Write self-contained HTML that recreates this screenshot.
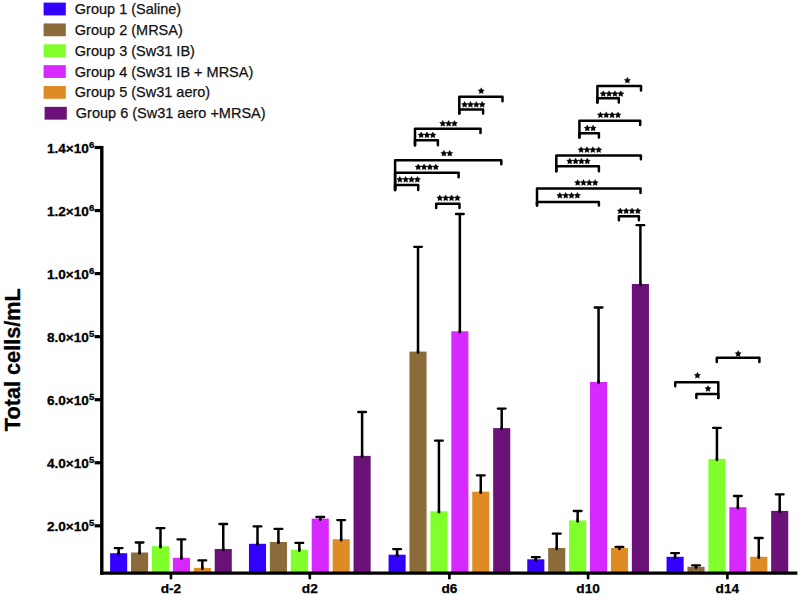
<!DOCTYPE html><html><head><meta charset="utf-8"><title>chart</title><style>
html,body{margin:0;padding:0;background:#fff}
svg{display:block;font-family:"Liberation Sans",sans-serif}
.lg{font-size:14.5px;fill:#111;stroke:#111;stroke-width:0.25px}
.yt{font-size:13.6px;font-weight:bold;fill:#000;stroke:#000;stroke-width:0.3px}
.xt{font-size:13.7px;font-weight:bold;fill:#000;text-anchor:middle;stroke:#000;stroke-width:0.25px}
.st{font-size:7px;fill:#000;text-anchor:middle}
</style></head><body>
<svg width="800" height="595" viewBox="0 0 800 595">
<rect width="800" height="595" fill="#fff"/>
<rect x="43.60" y="2.60" width="22.2" height="12.8" fill="#3300ff"/>
<text class="lg" x="74.80" y="14.20">Group 1 (Saline)</text>
<rect x="43.60" y="23.45" width="22.2" height="12.8" fill="#8b6b3a"/>
<text class="lg" x="74.80" y="35.05">Group 2 (MRSA)</text>
<rect x="43.60" y="44.30" width="22.2" height="12.8" fill="#80ff2a"/>
<text class="lg" x="74.80" y="55.90">Group 3 (Sw31 IB)</text>
<rect x="43.60" y="65.15" width="22.2" height="12.8" fill="#d729ff"/>
<text class="lg" x="74.80" y="76.75">Group 4 (Sw31 IB + MRSA)</text>
<rect x="43.60" y="86.00" width="22.2" height="12.8" fill="#de8a25"/>
<text class="lg" x="74.80" y="97.20">Group 5 (Sw31 aero)</text>
<rect x="44.60" y="106.85" width="22.2" height="12.8" fill="#6b1278"/>
<text class="lg" x="75.80" y="118.05">Group 6 (Sw31 aero +MRSA)</text>
<text transform="translate(20.2,359.7) rotate(-90)" text-anchor="middle" font-size="21.7px" stroke="#000" stroke-width="0.3" font-weight="bold" fill="#000">Total cells/mL</text>
<line x1="94.6" x2="101.8" y1="147.50" y2="147.50" stroke="#000" stroke-width="3.2"/>
<text class="yt" x="94.2" y="153.00" text-anchor="end">1.4×10<tspan font-size="9.5px" dy="-5.2">6</tspan></text>
<line x1="94.6" x2="101.8" y1="210.55" y2="210.55" stroke="#000" stroke-width="3.2"/>
<text class="yt" x="94.2" y="216.05" text-anchor="end">1.2×10<tspan font-size="9.5px" dy="-5.2">6</tspan></text>
<line x1="94.6" x2="101.8" y1="273.60" y2="273.60" stroke="#000" stroke-width="3.2"/>
<text class="yt" x="94.2" y="279.10" text-anchor="end">1.0×10<tspan font-size="9.5px" dy="-5.2">6</tspan></text>
<line x1="94.6" x2="101.8" y1="336.65" y2="336.65" stroke="#000" stroke-width="3.2"/>
<text class="yt" x="94.2" y="342.15" text-anchor="end">8.0×10<tspan font-size="9.5px" dy="-5.2">5</tspan></text>
<line x1="94.6" x2="101.8" y1="399.70" y2="399.70" stroke="#000" stroke-width="3.2"/>
<text class="yt" x="94.2" y="405.20" text-anchor="end">6.0×10<tspan font-size="9.5px" dy="-5.2">5</tspan></text>
<line x1="94.6" x2="101.8" y1="462.75" y2="462.75" stroke="#000" stroke-width="3.2"/>
<text class="yt" x="94.2" y="468.25" text-anchor="end">4.0×10<tspan font-size="9.5px" dy="-5.2">5</tspan></text>
<line x1="94.6" x2="101.8" y1="525.80" y2="525.80" stroke="#000" stroke-width="3.2"/>
<text class="yt" x="94.2" y="531.30" text-anchor="end">2.0×10<tspan font-size="9.5px" dy="-5.2">5</tspan></text>
<line x1="118.65" x2="118.65" y1="548.10" y2="554.20" stroke="#000" stroke-width="2.5"/>
<line x1="114.75" x2="122.55" y1="548.10" y2="548.10" stroke="#000" stroke-width="2.3" stroke-linecap="round"/>
<rect x="110.10" y="553.20" width="17.1" height="19.90" fill="#3300ff"/>
<line x1="118.65" x2="118.65" y1="552.70" y2="554.20" stroke="#000" stroke-width="2.6" stroke-linecap="round"/>
<line x1="139.57" x2="139.57" y1="542.50" y2="553.50" stroke="#000" stroke-width="2.5"/>
<line x1="135.67" x2="143.47" y1="542.50" y2="542.50" stroke="#000" stroke-width="2.3" stroke-linecap="round"/>
<rect x="131.02" y="552.50" width="17.1" height="20.60" fill="#8b6b3a"/>
<line x1="139.57" x2="139.57" y1="552.00" y2="553.50" stroke="#000" stroke-width="2.6" stroke-linecap="round"/>
<line x1="160.49" x2="160.49" y1="528.20" y2="547.20" stroke="#000" stroke-width="2.5"/>
<line x1="156.59" x2="164.39" y1="528.20" y2="528.20" stroke="#000" stroke-width="2.3" stroke-linecap="round"/>
<rect x="151.94" y="546.20" width="17.1" height="26.90" fill="#80ff2a"/>
<line x1="160.49" x2="160.49" y1="545.70" y2="547.20" stroke="#000" stroke-width="2.6" stroke-linecap="round"/>
<line x1="181.41" x2="181.41" y1="539.40" y2="558.80" stroke="#000" stroke-width="2.5"/>
<line x1="177.51" x2="185.31" y1="539.40" y2="539.40" stroke="#000" stroke-width="2.3" stroke-linecap="round"/>
<rect x="172.86" y="557.80" width="17.1" height="15.30" fill="#d729ff"/>
<line x1="181.41" x2="181.41" y1="557.30" y2="558.80" stroke="#000" stroke-width="2.6" stroke-linecap="round"/>
<line x1="202.33" x2="202.33" y1="560.40" y2="568.90" stroke="#000" stroke-width="2.5"/>
<line x1="198.43" x2="206.23" y1="560.40" y2="560.40" stroke="#000" stroke-width="2.3" stroke-linecap="round"/>
<rect x="193.78" y="567.90" width="17.1" height="5.20" fill="#de8a25"/>
<line x1="202.33" x2="202.33" y1="567.40" y2="568.90" stroke="#000" stroke-width="2.6" stroke-linecap="round"/>
<line x1="223.25" x2="223.25" y1="524.00" y2="550.00" stroke="#000" stroke-width="2.5"/>
<line x1="219.35" x2="227.15" y1="524.00" y2="524.00" stroke="#000" stroke-width="2.3" stroke-linecap="round"/>
<rect x="214.70" y="549.00" width="17.1" height="24.10" fill="#6b1278"/>
<line x1="223.25" x2="223.25" y1="548.50" y2="550.00" stroke="#000" stroke-width="2.6" stroke-linecap="round"/>
<line x1="257.50" x2="257.50" y1="526.40" y2="544.80" stroke="#000" stroke-width="2.5"/>
<line x1="253.60" x2="261.40" y1="526.40" y2="526.40" stroke="#000" stroke-width="2.3" stroke-linecap="round"/>
<rect x="248.95" y="543.80" width="17.1" height="29.30" fill="#3300ff"/>
<line x1="257.50" x2="257.50" y1="543.30" y2="544.80" stroke="#000" stroke-width="2.6" stroke-linecap="round"/>
<line x1="278.42" x2="278.42" y1="528.90" y2="543.00" stroke="#000" stroke-width="2.5"/>
<line x1="274.52" x2="282.32" y1="528.90" y2="528.90" stroke="#000" stroke-width="2.3" stroke-linecap="round"/>
<rect x="269.87" y="542.00" width="17.1" height="31.10" fill="#8b6b3a"/>
<line x1="278.42" x2="278.42" y1="541.50" y2="543.00" stroke="#000" stroke-width="2.6" stroke-linecap="round"/>
<line x1="299.34" x2="299.34" y1="542.90" y2="550.70" stroke="#000" stroke-width="2.5"/>
<line x1="295.44" x2="303.24" y1="542.90" y2="542.90" stroke="#000" stroke-width="2.3" stroke-linecap="round"/>
<rect x="290.79" y="549.70" width="17.1" height="23.40" fill="#80ff2a"/>
<line x1="299.34" x2="299.34" y1="549.20" y2="550.70" stroke="#000" stroke-width="2.6" stroke-linecap="round"/>
<line x1="320.26" x2="320.26" y1="517.00" y2="519.60" stroke="#000" stroke-width="2.5"/>
<line x1="316.36" x2="324.16" y1="517.00" y2="517.00" stroke="#000" stroke-width="2.3" stroke-linecap="round"/>
<rect x="311.71" y="518.60" width="17.1" height="54.50" fill="#d729ff"/>
<line x1="320.26" x2="320.26" y1="518.10" y2="519.60" stroke="#000" stroke-width="2.6" stroke-linecap="round"/>
<line x1="341.18" x2="341.18" y1="520.10" y2="540.20" stroke="#000" stroke-width="2.5"/>
<line x1="337.28" x2="345.08" y1="520.10" y2="520.10" stroke="#000" stroke-width="2.3" stroke-linecap="round"/>
<rect x="332.63" y="539.20" width="17.1" height="33.90" fill="#de8a25"/>
<line x1="341.18" x2="341.18" y1="538.70" y2="540.20" stroke="#000" stroke-width="2.6" stroke-linecap="round"/>
<line x1="362.10" x2="362.10" y1="412.00" y2="456.90" stroke="#000" stroke-width="2.5"/>
<line x1="358.20" x2="366.00" y1="412.00" y2="412.00" stroke="#000" stroke-width="2.3" stroke-linecap="round"/>
<rect x="353.55" y="455.90" width="17.1" height="117.20" fill="#6b1278"/>
<line x1="362.10" x2="362.10" y1="455.40" y2="456.90" stroke="#000" stroke-width="2.6" stroke-linecap="round"/>
<line x1="397.10" x2="397.10" y1="549.10" y2="555.70" stroke="#000" stroke-width="2.5"/>
<line x1="393.20" x2="401.00" y1="549.10" y2="549.10" stroke="#000" stroke-width="2.3" stroke-linecap="round"/>
<rect x="388.55" y="554.70" width="17.1" height="18.40" fill="#3300ff"/>
<line x1="397.10" x2="397.10" y1="554.20" y2="555.70" stroke="#000" stroke-width="2.6" stroke-linecap="round"/>
<line x1="418.02" x2="418.02" y1="246.80" y2="352.60" stroke="#000" stroke-width="2.5"/>
<line x1="414.12" x2="421.92" y1="246.80" y2="246.80" stroke="#000" stroke-width="2.3" stroke-linecap="round"/>
<rect x="409.47" y="351.60" width="17.1" height="221.50" fill="#8b6b3a"/>
<line x1="418.02" x2="418.02" y1="351.10" y2="352.60" stroke="#000" stroke-width="2.6" stroke-linecap="round"/>
<line x1="438.94" x2="438.94" y1="440.60" y2="512.30" stroke="#000" stroke-width="2.5"/>
<line x1="435.04" x2="442.84" y1="440.60" y2="440.60" stroke="#000" stroke-width="2.3" stroke-linecap="round"/>
<rect x="430.39" y="511.30" width="17.1" height="61.80" fill="#80ff2a"/>
<line x1="438.94" x2="438.94" y1="510.80" y2="512.30" stroke="#000" stroke-width="2.6" stroke-linecap="round"/>
<line x1="459.86" x2="459.86" y1="214.00" y2="332.30" stroke="#000" stroke-width="2.5"/>
<line x1="455.96" x2="463.76" y1="214.00" y2="214.00" stroke="#000" stroke-width="2.3" stroke-linecap="round"/>
<rect x="451.31" y="331.30" width="17.1" height="241.80" fill="#d729ff"/>
<line x1="459.86" x2="459.86" y1="330.80" y2="332.30" stroke="#000" stroke-width="2.6" stroke-linecap="round"/>
<line x1="480.78" x2="480.78" y1="475.30" y2="492.70" stroke="#000" stroke-width="2.5"/>
<line x1="476.88" x2="484.68" y1="475.30" y2="475.30" stroke="#000" stroke-width="2.3" stroke-linecap="round"/>
<rect x="472.23" y="491.70" width="17.1" height="81.40" fill="#de8a25"/>
<line x1="480.78" x2="480.78" y1="491.20" y2="492.70" stroke="#000" stroke-width="2.6" stroke-linecap="round"/>
<line x1="501.70" x2="501.70" y1="408.60" y2="429.10" stroke="#000" stroke-width="2.5"/>
<line x1="497.80" x2="505.60" y1="408.60" y2="408.60" stroke="#000" stroke-width="2.3" stroke-linecap="round"/>
<rect x="493.15" y="428.10" width="17.1" height="145.00" fill="#6b1278"/>
<line x1="501.70" x2="501.70" y1="427.60" y2="429.10" stroke="#000" stroke-width="2.6" stroke-linecap="round"/>
<line x1="535.80" x2="535.80" y1="557.20" y2="560.30" stroke="#000" stroke-width="2.5"/>
<line x1="531.90" x2="539.70" y1="557.20" y2="557.20" stroke="#000" stroke-width="2.3" stroke-linecap="round"/>
<rect x="527.25" y="559.30" width="17.1" height="13.80" fill="#3300ff"/>
<line x1="535.80" x2="535.80" y1="558.80" y2="560.30" stroke="#000" stroke-width="2.6" stroke-linecap="round"/>
<line x1="556.72" x2="556.72" y1="533.70" y2="549.00" stroke="#000" stroke-width="2.5"/>
<line x1="552.82" x2="560.62" y1="533.70" y2="533.70" stroke="#000" stroke-width="2.3" stroke-linecap="round"/>
<rect x="548.17" y="548.00" width="17.1" height="25.10" fill="#8b6b3a"/>
<line x1="556.72" x2="556.72" y1="547.50" y2="549.00" stroke="#000" stroke-width="2.6" stroke-linecap="round"/>
<line x1="577.64" x2="577.64" y1="511.00" y2="521.40" stroke="#000" stroke-width="2.5"/>
<line x1="573.74" x2="581.54" y1="511.00" y2="511.00" stroke="#000" stroke-width="2.3" stroke-linecap="round"/>
<rect x="569.09" y="520.40" width="17.1" height="52.70" fill="#80ff2a"/>
<line x1="577.64" x2="577.64" y1="519.90" y2="521.40" stroke="#000" stroke-width="2.6" stroke-linecap="round"/>
<line x1="598.56" x2="598.56" y1="307.50" y2="383.00" stroke="#000" stroke-width="2.5"/>
<line x1="594.66" x2="602.46" y1="307.50" y2="307.50" stroke="#000" stroke-width="2.3" stroke-linecap="round"/>
<rect x="590.01" y="382.00" width="17.1" height="191.10" fill="#d729ff"/>
<line x1="598.56" x2="598.56" y1="381.50" y2="383.00" stroke="#000" stroke-width="2.6" stroke-linecap="round"/>
<line x1="619.48" x2="619.48" y1="547.00" y2="549.00" stroke="#000" stroke-width="2.5"/>
<line x1="615.58" x2="623.38" y1="547.00" y2="547.00" stroke="#000" stroke-width="2.3" stroke-linecap="round"/>
<rect x="610.93" y="548.00" width="17.1" height="25.10" fill="#de8a25"/>
<line x1="619.48" x2="619.48" y1="547.50" y2="549.00" stroke="#000" stroke-width="2.6" stroke-linecap="round"/>
<line x1="640.40" x2="640.40" y1="225.20" y2="285.00" stroke="#000" stroke-width="2.5"/>
<line x1="636.50" x2="644.30" y1="225.20" y2="225.20" stroke="#000" stroke-width="2.3" stroke-linecap="round"/>
<rect x="631.85" y="284.00" width="17.1" height="289.10" fill="#6b1278"/>
<line x1="640.40" x2="640.40" y1="283.50" y2="285.00" stroke="#000" stroke-width="2.6" stroke-linecap="round"/>
<line x1="675.10" x2="675.10" y1="553.10" y2="557.80" stroke="#000" stroke-width="2.5"/>
<line x1="671.20" x2="679.00" y1="553.10" y2="553.10" stroke="#000" stroke-width="2.3" stroke-linecap="round"/>
<rect x="666.55" y="556.80" width="17.1" height="16.30" fill="#3300ff"/>
<line x1="675.10" x2="675.10" y1="556.30" y2="557.80" stroke="#000" stroke-width="2.6" stroke-linecap="round"/>
<line x1="696.02" x2="696.02" y1="565.40" y2="567.80" stroke="#000" stroke-width="2.5"/>
<line x1="692.12" x2="699.92" y1="565.40" y2="565.40" stroke="#000" stroke-width="2.3" stroke-linecap="round"/>
<rect x="687.47" y="566.80" width="17.1" height="6.30" fill="#8b6b3a"/>
<line x1="696.02" x2="696.02" y1="566.30" y2="567.80" stroke="#000" stroke-width="2.6" stroke-linecap="round"/>
<line x1="716.94" x2="716.94" y1="427.90" y2="459.90" stroke="#000" stroke-width="2.5"/>
<line x1="713.04" x2="720.84" y1="427.90" y2="427.90" stroke="#000" stroke-width="2.3" stroke-linecap="round"/>
<rect x="708.39" y="458.90" width="17.1" height="114.20" fill="#80ff2a"/>
<line x1="716.94" x2="716.94" y1="458.40" y2="459.90" stroke="#000" stroke-width="2.6" stroke-linecap="round"/>
<line x1="737.86" x2="737.86" y1="496.00" y2="508.20" stroke="#000" stroke-width="2.5"/>
<line x1="733.96" x2="741.76" y1="496.00" y2="496.00" stroke="#000" stroke-width="2.3" stroke-linecap="round"/>
<rect x="729.31" y="507.20" width="17.1" height="65.90" fill="#d729ff"/>
<line x1="737.86" x2="737.86" y1="506.70" y2="508.20" stroke="#000" stroke-width="2.6" stroke-linecap="round"/>
<line x1="758.78" x2="758.78" y1="538.00" y2="557.80" stroke="#000" stroke-width="2.5"/>
<line x1="754.88" x2="762.68" y1="538.00" y2="538.00" stroke="#000" stroke-width="2.3" stroke-linecap="round"/>
<rect x="750.23" y="556.80" width="17.1" height="16.30" fill="#de8a25"/>
<line x1="758.78" x2="758.78" y1="556.30" y2="557.80" stroke="#000" stroke-width="2.6" stroke-linecap="round"/>
<line x1="779.70" x2="779.70" y1="494.40" y2="511.90" stroke="#000" stroke-width="2.5"/>
<line x1="775.80" x2="783.60" y1="494.40" y2="494.40" stroke="#000" stroke-width="2.3" stroke-linecap="round"/>
<rect x="771.15" y="510.90" width="17.1" height="62.20" fill="#6b1278"/>
<line x1="779.70" x2="779.70" y1="510.40" y2="511.90" stroke="#000" stroke-width="2.6" stroke-linecap="round"/>
<line x1="101.8" x2="101.8" y1="145.9" y2="574.8000000000001" stroke="#000" stroke-width="3.4"/>
<line x1="100.1" x2="797.4" y1="573.1" y2="573.1" stroke="#000" stroke-width="3.4"/>
<line x1="170.95" x2="170.95" y1="573.1" y2="579.3000000000001" stroke="#000" stroke-width="2.6"/>
<text class="xt" x="170.95" y="592.8">d-2</text>
<line x1="309.80" x2="309.80" y1="573.1" y2="579.3000000000001" stroke="#000" stroke-width="2.6"/>
<text class="xt" x="309.80" y="592.8">d2</text>
<line x1="449.40" x2="449.40" y1="573.1" y2="579.3000000000001" stroke="#000" stroke-width="2.6"/>
<text class="xt" x="449.40" y="592.8">d6</text>
<line x1="588.10" x2="588.10" y1="573.1" y2="579.3000000000001" stroke="#000" stroke-width="2.6"/>
<text class="xt" x="588.10" y="592.8">d10</text>
<line x1="727.40" x2="727.40" y1="573.1" y2="579.3000000000001" stroke="#000" stroke-width="2.6"/>
<text class="xt" x="727.40" y="592.8">d14</text>
<path d="M459.3,113.4 L459.3,96.7 L502.5,96.7 L502.5,101.2" fill="none" stroke="#000" stroke-width="2.5" stroke-linejoin="round" stroke-linecap="round"/>
<path transform="translate(481.20,90.75)" d="M0.00,-2.95 L0.97,-1.08 L3.04,-0.74 L1.57,0.76 L1.88,2.84 L0.00,1.90 L-1.88,2.84 L-1.57,0.76 L-3.04,-0.74 L-0.97,-1.08 Z" fill="#000" stroke="#000" stroke-width="0.4" stroke-linejoin="round"/>
<path d="M459.3,113.4 L459.3,109.6 L483.09999999999997,109.6 L483.09999999999997,113.4" fill="none" stroke="#000" stroke-width="2.5" stroke-linejoin="round" stroke-linecap="round"/>
<path transform="translate(464.62,104.45)" d="M0.00,-2.95 L0.97,-1.08 L3.04,-0.74 L1.57,0.76 L1.88,2.84 L0.00,1.90 L-1.88,2.84 L-1.57,0.76 L-3.04,-0.74 L-0.97,-1.08 Z" fill="#000" stroke="#000" stroke-width="0.4" stroke-linejoin="round"/>
<path transform="translate(470.47,104.45)" d="M0.00,-2.95 L0.97,-1.08 L3.04,-0.74 L1.57,0.76 L1.88,2.84 L0.00,1.90 L-1.88,2.84 L-1.57,0.76 L-3.04,-0.74 L-0.97,-1.08 Z" fill="#000" stroke="#000" stroke-width="0.4" stroke-linejoin="round"/>
<path transform="translate(476.32,104.45)" d="M0.00,-2.95 L0.97,-1.08 L3.04,-0.74 L1.57,0.76 L1.88,2.84 L0.00,1.90 L-1.88,2.84 L-1.57,0.76 L-3.04,-0.74 L-0.97,-1.08 Z" fill="#000" stroke="#000" stroke-width="0.4" stroke-linejoin="round"/>
<path transform="translate(482.17,104.45)" d="M0.00,-2.95 L0.97,-1.08 L3.04,-0.74 L1.57,0.76 L1.88,2.84 L0.00,1.90 L-1.88,2.84 L-1.57,0.76 L-3.04,-0.74 L-0.97,-1.08 Z" fill="#000" stroke="#000" stroke-width="0.4" stroke-linejoin="round"/>
<path d="M415.0,145.3 L415.0,128.70000000000002 L480.5,128.70000000000002 L480.5,133.0" fill="none" stroke="#000" stroke-width="2.5" stroke-linejoin="round" stroke-linecap="round"/>
<path transform="translate(442.75,123.35)" d="M0.00,-2.95 L0.97,-1.08 L3.04,-0.74 L1.57,0.76 L1.88,2.84 L0.00,1.90 L-1.88,2.84 L-1.57,0.76 L-3.04,-0.74 L-0.97,-1.08 Z" fill="#000" stroke="#000" stroke-width="0.4" stroke-linejoin="round"/>
<path transform="translate(448.60,123.35)" d="M0.00,-2.95 L0.97,-1.08 L3.04,-0.74 L1.57,0.76 L1.88,2.84 L0.00,1.90 L-1.88,2.84 L-1.57,0.76 L-3.04,-0.74 L-0.97,-1.08 Z" fill="#000" stroke="#000" stroke-width="0.4" stroke-linejoin="round"/>
<path transform="translate(454.45,123.35)" d="M0.00,-2.95 L0.97,-1.08 L3.04,-0.74 L1.57,0.76 L1.88,2.84 L0.00,1.90 L-1.88,2.84 L-1.57,0.76 L-3.04,-0.74 L-0.97,-1.08 Z" fill="#000" stroke="#000" stroke-width="0.4" stroke-linejoin="round"/>
<path d="M415.0,145.3 L415.0,140.20000000000002 L437.9,140.20000000000002 L437.9,145.3" fill="none" stroke="#000" stroke-width="2.5" stroke-linejoin="round" stroke-linecap="round"/>
<path transform="translate(421.15,134.95)" d="M0.00,-2.95 L0.97,-1.08 L3.04,-0.74 L1.57,0.76 L1.88,2.84 L0.00,1.90 L-1.88,2.84 L-1.57,0.76 L-3.04,-0.74 L-0.97,-1.08 Z" fill="#000" stroke="#000" stroke-width="0.4" stroke-linejoin="round"/>
<path transform="translate(427.00,134.95)" d="M0.00,-2.95 L0.97,-1.08 L3.04,-0.74 L1.57,0.76 L1.88,2.84 L0.00,1.90 L-1.88,2.84 L-1.57,0.76 L-3.04,-0.74 L-0.97,-1.08 Z" fill="#000" stroke="#000" stroke-width="0.4" stroke-linejoin="round"/>
<path transform="translate(432.85,134.95)" d="M0.00,-2.95 L0.97,-1.08 L3.04,-0.74 L1.57,0.76 L1.88,2.84 L0.00,1.90 L-1.88,2.84 L-1.57,0.76 L-3.04,-0.74 L-0.97,-1.08 Z" fill="#000" stroke="#000" stroke-width="0.4" stroke-linejoin="round"/>
<path d="M395.1,190.0 L395.1,160.20000000000002 L501.3,160.20000000000002 L501.3,164.20000000000002" fill="none" stroke="#000" stroke-width="2.5" stroke-linejoin="round" stroke-linecap="round"/>
<path transform="translate(443.88,153.25)" d="M0.00,-2.95 L0.97,-1.08 L3.04,-0.74 L1.57,0.76 L1.88,2.84 L0.00,1.90 L-1.88,2.84 L-1.57,0.76 L-3.04,-0.74 L-0.97,-1.08 Z" fill="#000" stroke="#000" stroke-width="0.4" stroke-linejoin="round"/>
<path transform="translate(449.73,153.25)" d="M0.00,-2.95 L0.97,-1.08 L3.04,-0.74 L1.57,0.76 L1.88,2.84 L0.00,1.90 L-1.88,2.84 L-1.57,0.76 L-3.04,-0.74 L-0.97,-1.08 Z" fill="#000" stroke="#000" stroke-width="0.4" stroke-linejoin="round"/>
<path d="M395.1,190.0 L395.1,172.70000000000002 L458.59999999999997,172.70000000000002 L458.59999999999997,177.20000000000002" fill="none" stroke="#000" stroke-width="2.5" stroke-linejoin="round" stroke-linecap="round"/>
<path transform="translate(418.23,166.95)" d="M0.00,-2.95 L0.97,-1.08 L3.04,-0.74 L1.57,0.76 L1.88,2.84 L0.00,1.90 L-1.88,2.84 L-1.57,0.76 L-3.04,-0.74 L-0.97,-1.08 Z" fill="#000" stroke="#000" stroke-width="0.4" stroke-linejoin="round"/>
<path transform="translate(424.07,166.95)" d="M0.00,-2.95 L0.97,-1.08 L3.04,-0.74 L1.57,0.76 L1.88,2.84 L0.00,1.90 L-1.88,2.84 L-1.57,0.76 L-3.04,-0.74 L-0.97,-1.08 Z" fill="#000" stroke="#000" stroke-width="0.4" stroke-linejoin="round"/>
<path transform="translate(429.93,166.95)" d="M0.00,-2.95 L0.97,-1.08 L3.04,-0.74 L1.57,0.76 L1.88,2.84 L0.00,1.90 L-1.88,2.84 L-1.57,0.76 L-3.04,-0.74 L-0.97,-1.08 Z" fill="#000" stroke="#000" stroke-width="0.4" stroke-linejoin="round"/>
<path transform="translate(435.77,166.95)" d="M0.00,-2.95 L0.97,-1.08 L3.04,-0.74 L1.57,0.76 L1.88,2.84 L0.00,1.90 L-1.88,2.84 L-1.57,0.76 L-3.04,-0.74 L-0.97,-1.08 Z" fill="#000" stroke="#000" stroke-width="0.4" stroke-linejoin="round"/>
<path d="M395.1,190.0 L395.1,184.9 L418.2,184.9 L418.2,190.0" fill="none" stroke="#000" stroke-width="2.5" stroke-linejoin="round" stroke-linecap="round"/>
<path transform="translate(399.83,179.35)" d="M0.00,-2.95 L0.97,-1.08 L3.04,-0.74 L1.57,0.76 L1.88,2.84 L0.00,1.90 L-1.88,2.84 L-1.57,0.76 L-3.04,-0.74 L-0.97,-1.08 Z" fill="#000" stroke="#000" stroke-width="0.4" stroke-linejoin="round"/>
<path transform="translate(405.68,179.35)" d="M0.00,-2.95 L0.97,-1.08 L3.04,-0.74 L1.57,0.76 L1.88,2.84 L0.00,1.90 L-1.88,2.84 L-1.57,0.76 L-3.04,-0.74 L-0.97,-1.08 Z" fill="#000" stroke="#000" stroke-width="0.4" stroke-linejoin="round"/>
<path transform="translate(411.53,179.35)" d="M0.00,-2.95 L0.97,-1.08 L3.04,-0.74 L1.57,0.76 L1.88,2.84 L0.00,1.90 L-1.88,2.84 L-1.57,0.76 L-3.04,-0.74 L-0.97,-1.08 Z" fill="#000" stroke="#000" stroke-width="0.4" stroke-linejoin="round"/>
<path transform="translate(417.38,179.35)" d="M0.00,-2.95 L0.97,-1.08 L3.04,-0.74 L1.57,0.76 L1.88,2.84 L0.00,1.90 L-1.88,2.84 L-1.57,0.76 L-3.04,-0.74 L-0.97,-1.08 Z" fill="#000" stroke="#000" stroke-width="0.4" stroke-linejoin="round"/>
<path d="M436.20000000000005,207.9 L436.20000000000005,203.70000000000002 L459.5,203.70000000000002 L459.5,207.9" fill="none" stroke="#000" stroke-width="2.5" stroke-linejoin="round" stroke-linecap="round"/>
<path transform="translate(439.83,197.85)" d="M0.00,-2.95 L0.97,-1.08 L3.04,-0.74 L1.57,0.76 L1.88,2.84 L0.00,1.90 L-1.88,2.84 L-1.57,0.76 L-3.04,-0.74 L-0.97,-1.08 Z" fill="#000" stroke="#000" stroke-width="0.4" stroke-linejoin="round"/>
<path transform="translate(445.68,197.85)" d="M0.00,-2.95 L0.97,-1.08 L3.04,-0.74 L1.57,0.76 L1.88,2.84 L0.00,1.90 L-1.88,2.84 L-1.57,0.76 L-3.04,-0.74 L-0.97,-1.08 Z" fill="#000" stroke="#000" stroke-width="0.4" stroke-linejoin="round"/>
<path transform="translate(451.53,197.85)" d="M0.00,-2.95 L0.97,-1.08 L3.04,-0.74 L1.57,0.76 L1.88,2.84 L0.00,1.90 L-1.88,2.84 L-1.57,0.76 L-3.04,-0.74 L-0.97,-1.08 Z" fill="#000" stroke="#000" stroke-width="0.4" stroke-linejoin="round"/>
<path transform="translate(457.38,197.85)" d="M0.00,-2.95 L0.97,-1.08 L3.04,-0.74 L1.57,0.76 L1.88,2.84 L0.00,1.90 L-1.88,2.84 L-1.57,0.76 L-3.04,-0.74 L-0.97,-1.08 Z" fill="#000" stroke="#000" stroke-width="0.4" stroke-linejoin="round"/>
<path d="M597.4,102.60000000000001 L597.4,86.1 L641.0,86.1 L641.0,90.4" fill="none" stroke="#000" stroke-width="2.5" stroke-linejoin="round" stroke-linecap="round"/>
<path transform="translate(627.40,80.25)" d="M0.00,-2.95 L0.97,-1.08 L3.04,-0.74 L1.57,0.76 L1.88,2.84 L0.00,1.90 L-1.88,2.84 L-1.57,0.76 L-3.04,-0.74 L-0.97,-1.08 Z" fill="#000" stroke="#000" stroke-width="0.4" stroke-linejoin="round"/>
<path d="M597.4,102.60000000000001 L597.4,98.2 L618.8000000000001,98.2 L618.8000000000001,102.60000000000001" fill="none" stroke="#000" stroke-width="2.5" stroke-linejoin="round" stroke-linecap="round"/>
<path transform="translate(603.23,93.65)" d="M0.00,-2.95 L0.97,-1.08 L3.04,-0.74 L1.57,0.76 L1.88,2.84 L0.00,1.90 L-1.88,2.84 L-1.57,0.76 L-3.04,-0.74 L-0.97,-1.08 Z" fill="#000" stroke="#000" stroke-width="0.4" stroke-linejoin="round"/>
<path transform="translate(609.08,93.65)" d="M0.00,-2.95 L0.97,-1.08 L3.04,-0.74 L1.57,0.76 L1.88,2.84 L0.00,1.90 L-1.88,2.84 L-1.57,0.76 L-3.04,-0.74 L-0.97,-1.08 Z" fill="#000" stroke="#000" stroke-width="0.4" stroke-linejoin="round"/>
<path transform="translate(614.92,93.65)" d="M0.00,-2.95 L0.97,-1.08 L3.04,-0.74 L1.57,0.76 L1.88,2.84 L0.00,1.90 L-1.88,2.84 L-1.57,0.76 L-3.04,-0.74 L-0.97,-1.08 Z" fill="#000" stroke="#000" stroke-width="0.4" stroke-linejoin="round"/>
<path transform="translate(620.77,93.65)" d="M0.00,-2.95 L0.97,-1.08 L3.04,-0.74 L1.57,0.76 L1.88,2.84 L0.00,1.90 L-1.88,2.84 L-1.57,0.76 L-3.04,-0.74 L-0.97,-1.08 Z" fill="#000" stroke="#000" stroke-width="0.4" stroke-linejoin="round"/>
<path d="M579.4,137.4 L579.4,120.7 L640.2,120.7 L640.2,125.0" fill="none" stroke="#000" stroke-width="2.5" stroke-linejoin="round" stroke-linecap="round"/>
<path transform="translate(600.43,114.85)" d="M0.00,-2.95 L0.97,-1.08 L3.04,-0.74 L1.57,0.76 L1.88,2.84 L0.00,1.90 L-1.88,2.84 L-1.57,0.76 L-3.04,-0.74 L-0.97,-1.08 Z" fill="#000" stroke="#000" stroke-width="0.4" stroke-linejoin="round"/>
<path transform="translate(606.28,114.85)" d="M0.00,-2.95 L0.97,-1.08 L3.04,-0.74 L1.57,0.76 L1.88,2.84 L0.00,1.90 L-1.88,2.84 L-1.57,0.76 L-3.04,-0.74 L-0.97,-1.08 Z" fill="#000" stroke="#000" stroke-width="0.4" stroke-linejoin="round"/>
<path transform="translate(612.12,114.85)" d="M0.00,-2.95 L0.97,-1.08 L3.04,-0.74 L1.57,0.76 L1.88,2.84 L0.00,1.90 L-1.88,2.84 L-1.57,0.76 L-3.04,-0.74 L-0.97,-1.08 Z" fill="#000" stroke="#000" stroke-width="0.4" stroke-linejoin="round"/>
<path transform="translate(617.98,114.85)" d="M0.00,-2.95 L0.97,-1.08 L3.04,-0.74 L1.57,0.76 L1.88,2.84 L0.00,1.90 L-1.88,2.84 L-1.57,0.76 L-3.04,-0.74 L-0.97,-1.08 Z" fill="#000" stroke="#000" stroke-width="0.4" stroke-linejoin="round"/>
<path d="M579.4,137.4 L579.4,133.20000000000002 L598.9000000000001,133.20000000000002 L598.9000000000001,137.4" fill="none" stroke="#000" stroke-width="2.5" stroke-linejoin="round" stroke-linecap="round"/>
<path transform="translate(587.28,128.05)" d="M0.00,-2.95 L0.97,-1.08 L3.04,-0.74 L1.57,0.76 L1.88,2.84 L0.00,1.90 L-1.88,2.84 L-1.57,0.76 L-3.04,-0.74 L-0.97,-1.08 Z" fill="#000" stroke="#000" stroke-width="0.4" stroke-linejoin="round"/>
<path transform="translate(593.12,128.05)" d="M0.00,-2.95 L0.97,-1.08 L3.04,-0.74 L1.57,0.76 L1.88,2.84 L0.00,1.90 L-1.88,2.84 L-1.57,0.76 L-3.04,-0.74 L-0.97,-1.08 Z" fill="#000" stroke="#000" stroke-width="0.4" stroke-linejoin="round"/>
<path d="M556.3000000000001,171.20000000000002 L556.3000000000001,155.5 L640.9000000000001,155.5 L640.9000000000001,159.3" fill="none" stroke="#000" stroke-width="2.5" stroke-linejoin="round" stroke-linecap="round"/>
<path transform="translate(581.12,149.65)" d="M0.00,-2.95 L0.97,-1.08 L3.04,-0.74 L1.57,0.76 L1.88,2.84 L0.00,1.90 L-1.88,2.84 L-1.57,0.76 L-3.04,-0.74 L-0.97,-1.08 Z" fill="#000" stroke="#000" stroke-width="0.4" stroke-linejoin="round"/>
<path transform="translate(586.98,149.65)" d="M0.00,-2.95 L0.97,-1.08 L3.04,-0.74 L1.57,0.76 L1.88,2.84 L0.00,1.90 L-1.88,2.84 L-1.57,0.76 L-3.04,-0.74 L-0.97,-1.08 Z" fill="#000" stroke="#000" stroke-width="0.4" stroke-linejoin="round"/>
<path transform="translate(592.82,149.65)" d="M0.00,-2.95 L0.97,-1.08 L3.04,-0.74 L1.57,0.76 L1.88,2.84 L0.00,1.90 L-1.88,2.84 L-1.57,0.76 L-3.04,-0.74 L-0.97,-1.08 Z" fill="#000" stroke="#000" stroke-width="0.4" stroke-linejoin="round"/>
<path transform="translate(598.67,149.65)" d="M0.00,-2.95 L0.97,-1.08 L3.04,-0.74 L1.57,0.76 L1.88,2.84 L0.00,1.90 L-1.88,2.84 L-1.57,0.76 L-3.04,-0.74 L-0.97,-1.08 Z" fill="#000" stroke="#000" stroke-width="0.4" stroke-linejoin="round"/>
<path d="M556.3000000000001,171.20000000000002 L556.3000000000001,166.20000000000002 L598.9000000000001,166.20000000000002 L598.9000000000001,171.20000000000002" fill="none" stroke="#000" stroke-width="2.5" stroke-linejoin="round" stroke-linecap="round"/>
<path transform="translate(569.73,161.05)" d="M0.00,-2.95 L0.97,-1.08 L3.04,-0.74 L1.57,0.76 L1.88,2.84 L0.00,1.90 L-1.88,2.84 L-1.57,0.76 L-3.04,-0.74 L-0.97,-1.08 Z" fill="#000" stroke="#000" stroke-width="0.4" stroke-linejoin="round"/>
<path transform="translate(575.58,161.05)" d="M0.00,-2.95 L0.97,-1.08 L3.04,-0.74 L1.57,0.76 L1.88,2.84 L0.00,1.90 L-1.88,2.84 L-1.57,0.76 L-3.04,-0.74 L-0.97,-1.08 Z" fill="#000" stroke="#000" stroke-width="0.4" stroke-linejoin="round"/>
<path transform="translate(581.42,161.05)" d="M0.00,-2.95 L0.97,-1.08 L3.04,-0.74 L1.57,0.76 L1.88,2.84 L0.00,1.90 L-1.88,2.84 L-1.57,0.76 L-3.04,-0.74 L-0.97,-1.08 Z" fill="#000" stroke="#000" stroke-width="0.4" stroke-linejoin="round"/>
<path transform="translate(587.27,161.05)" d="M0.00,-2.95 L0.97,-1.08 L3.04,-0.74 L1.57,0.76 L1.88,2.84 L0.00,1.90 L-1.88,2.84 L-1.57,0.76 L-3.04,-0.74 L-0.97,-1.08 Z" fill="#000" stroke="#000" stroke-width="0.4" stroke-linejoin="round"/>
<path d="M537.0,205.4 L537.0,188.4 L640.5,188.4 L640.5,192.9" fill="none" stroke="#000" stroke-width="2.5" stroke-linejoin="round" stroke-linecap="round"/>
<path transform="translate(577.62,182.55)" d="M0.00,-2.95 L0.97,-1.08 L3.04,-0.74 L1.57,0.76 L1.88,2.84 L0.00,1.90 L-1.88,2.84 L-1.57,0.76 L-3.04,-0.74 L-0.97,-1.08 Z" fill="#000" stroke="#000" stroke-width="0.4" stroke-linejoin="round"/>
<path transform="translate(583.48,182.55)" d="M0.00,-2.95 L0.97,-1.08 L3.04,-0.74 L1.57,0.76 L1.88,2.84 L0.00,1.90 L-1.88,2.84 L-1.57,0.76 L-3.04,-0.74 L-0.97,-1.08 Z" fill="#000" stroke="#000" stroke-width="0.4" stroke-linejoin="round"/>
<path transform="translate(589.32,182.55)" d="M0.00,-2.95 L0.97,-1.08 L3.04,-0.74 L1.57,0.76 L1.88,2.84 L0.00,1.90 L-1.88,2.84 L-1.57,0.76 L-3.04,-0.74 L-0.97,-1.08 Z" fill="#000" stroke="#000" stroke-width="0.4" stroke-linejoin="round"/>
<path transform="translate(595.17,182.55)" d="M0.00,-2.95 L0.97,-1.08 L3.04,-0.74 L1.57,0.76 L1.88,2.84 L0.00,1.90 L-1.88,2.84 L-1.57,0.76 L-3.04,-0.74 L-0.97,-1.08 Z" fill="#000" stroke="#000" stroke-width="0.4" stroke-linejoin="round"/>
<path d="M537.0,205.4 L537.0,202.0 L598.9000000000001,202.0 L598.9000000000001,205.4" fill="none" stroke="#000" stroke-width="2.5" stroke-linejoin="round" stroke-linecap="round"/>
<path transform="translate(559.83,195.35)" d="M0.00,-2.95 L0.97,-1.08 L3.04,-0.74 L1.57,0.76 L1.88,2.84 L0.00,1.90 L-1.88,2.84 L-1.57,0.76 L-3.04,-0.74 L-0.97,-1.08 Z" fill="#000" stroke="#000" stroke-width="0.4" stroke-linejoin="round"/>
<path transform="translate(565.68,195.35)" d="M0.00,-2.95 L0.97,-1.08 L3.04,-0.74 L1.57,0.76 L1.88,2.84 L0.00,1.90 L-1.88,2.84 L-1.57,0.76 L-3.04,-0.74 L-0.97,-1.08 Z" fill="#000" stroke="#000" stroke-width="0.4" stroke-linejoin="round"/>
<path transform="translate(571.52,195.35)" d="M0.00,-2.95 L0.97,-1.08 L3.04,-0.74 L1.57,0.76 L1.88,2.84 L0.00,1.90 L-1.88,2.84 L-1.57,0.76 L-3.04,-0.74 L-0.97,-1.08 Z" fill="#000" stroke="#000" stroke-width="0.4" stroke-linejoin="round"/>
<path transform="translate(577.38,195.35)" d="M0.00,-2.95 L0.97,-1.08 L3.04,-0.74 L1.57,0.76 L1.88,2.84 L0.00,1.90 L-1.88,2.84 L-1.57,0.76 L-3.04,-0.74 L-0.97,-1.08 Z" fill="#000" stroke="#000" stroke-width="0.4" stroke-linejoin="round"/>
<path d="M618.9,220.20000000000002 L618.9,216.20000000000002 L638.9000000000001,216.20000000000002 L638.9000000000001,220.20000000000002" fill="none" stroke="#000" stroke-width="2.5" stroke-linejoin="round" stroke-linecap="round"/>
<path transform="translate(620.33,210.85)" d="M0.00,-2.95 L0.97,-1.08 L3.04,-0.74 L1.57,0.76 L1.88,2.84 L0.00,1.90 L-1.88,2.84 L-1.57,0.76 L-3.04,-0.74 L-0.97,-1.08 Z" fill="#000" stroke="#000" stroke-width="0.4" stroke-linejoin="round"/>
<path transform="translate(626.18,210.85)" d="M0.00,-2.95 L0.97,-1.08 L3.04,-0.74 L1.57,0.76 L1.88,2.84 L0.00,1.90 L-1.88,2.84 L-1.57,0.76 L-3.04,-0.74 L-0.97,-1.08 Z" fill="#000" stroke="#000" stroke-width="0.4" stroke-linejoin="round"/>
<path transform="translate(632.02,210.85)" d="M0.00,-2.95 L0.97,-1.08 L3.04,-0.74 L1.57,0.76 L1.88,2.84 L0.00,1.90 L-1.88,2.84 L-1.57,0.76 L-3.04,-0.74 L-0.97,-1.08 Z" fill="#000" stroke="#000" stroke-width="0.4" stroke-linejoin="round"/>
<path transform="translate(637.88,210.85)" d="M0.00,-2.95 L0.97,-1.08 L3.04,-0.74 L1.57,0.76 L1.88,2.84 L0.00,1.90 L-1.88,2.84 L-1.57,0.76 L-3.04,-0.74 L-0.97,-1.08 Z" fill="#000" stroke="#000" stroke-width="0.4" stroke-linejoin="round"/>
<path d="M716.8000000000001,362.0 L716.8000000000001,357.7 L759.4000000000001,357.7 L759.4000000000001,362.0" fill="none" stroke="#000" stroke-width="2.5" stroke-linejoin="round" stroke-linecap="round"/>
<path transform="translate(738.20,353.55)" d="M0.00,-2.95 L0.97,-1.08 L3.04,-0.74 L1.57,0.76 L1.88,2.84 L0.00,1.90 L-1.88,2.84 L-1.57,0.76 L-3.04,-0.74 L-0.97,-1.08 Z" fill="#000" stroke="#000" stroke-width="0.4" stroke-linejoin="round"/>
<path d="M675.2,386.2 L675.2,382.2 L718.3000000000001,382.2 L718.3000000000001,397.9" fill="none" stroke="#000" stroke-width="2.5" stroke-linejoin="round" stroke-linecap="round"/>
<path transform="translate(697.40,375.25)" d="M0.00,-2.95 L0.97,-1.08 L3.04,-0.74 L1.57,0.76 L1.88,2.84 L0.00,1.90 L-1.88,2.84 L-1.57,0.76 L-3.04,-0.74 L-0.97,-1.08 Z" fill="#000" stroke="#000" stroke-width="0.4" stroke-linejoin="round"/>
<path d="M696.4,397.9 L696.4,394.0 L718.3000000000001,394.0 L718.3000000000001,397.9" fill="none" stroke="#000" stroke-width="2.5" stroke-linejoin="round" stroke-linecap="round"/>
<path transform="translate(708.00,388.55)" d="M0.00,-2.95 L0.97,-1.08 L3.04,-0.74 L1.57,0.76 L1.88,2.84 L0.00,1.90 L-1.88,2.84 L-1.57,0.76 L-3.04,-0.74 L-0.97,-1.08 Z" fill="#000" stroke="#000" stroke-width="0.4" stroke-linejoin="round"/>
</svg></body></html>
